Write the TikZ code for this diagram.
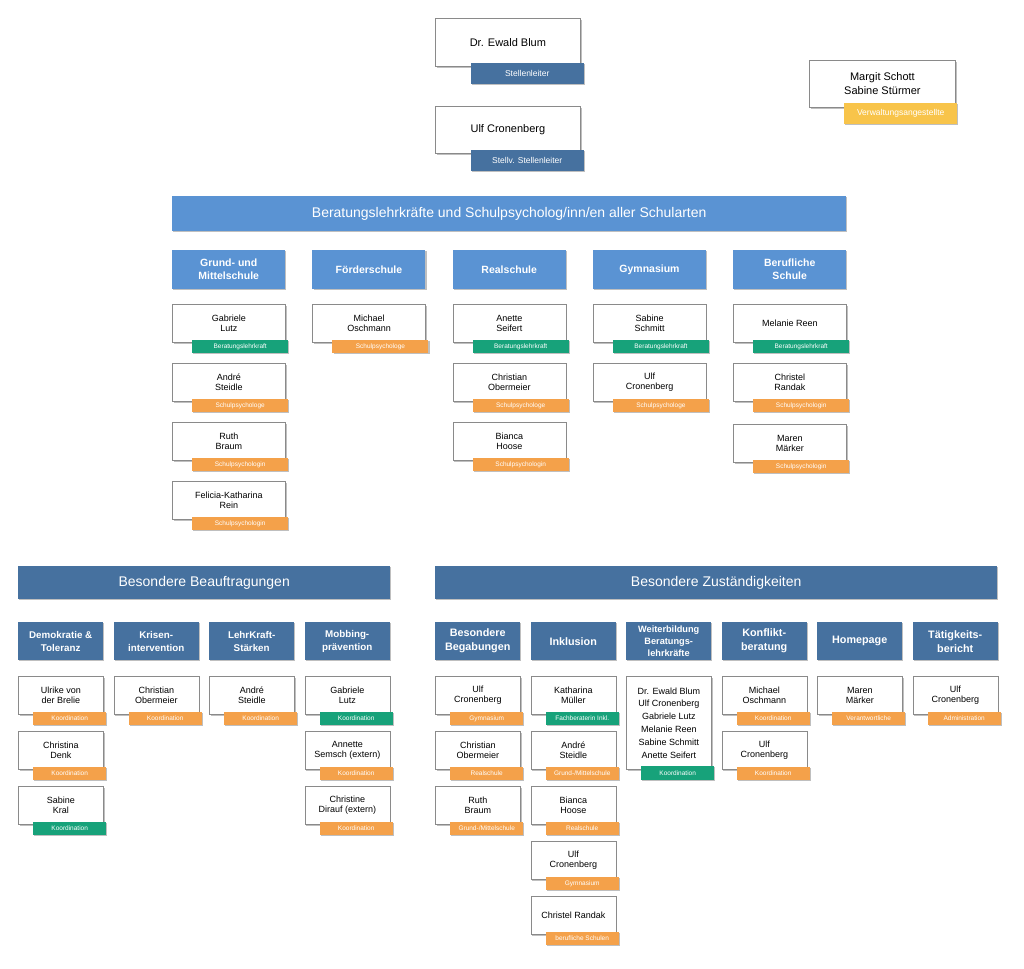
\documentclass[tikz,border=0pt]{standalone}
\usepackage{fontspec}
\setmainfont{Liberation Sans}
\usetikzlibrary{shadows}
\definecolor{lblue}{HTML}{5A93D3}
\definecolor{dblue}{HTML}{46719F}
\definecolor{tgreen}{HTML}{17A27A}
\definecolor{torange}{HTML}{F4A14A}
\definecolor{tyellow}{HTML}{F8C44A}
\definecolor{cardgray}{HTML}{8A8A8A}
\newcommand{\nmfont}{\fontsize{9}{10.5}\selectfont}
\newcommand{\tgfont}{\fontsize{6.5}{7.5}\selectfont}
\tikzset{
  shd/.style={drop shadow={shadow xshift=1.2pt, shadow yshift=-1.2pt, opacity=0.25, fill=black}},
  card/.style={draw=cardgray, line width=0.8pt, fill=white, inner sep=0pt, align=center, anchor=north west, shd},
  tagbox/.style={inner sep=0pt, text=white, anchor=north west, align=center, shd},
  hdr/.style={inner sep=0pt, text=white, anchor=north west, align=center, shd},
}
\newcommand{\ucard}[6]{%
  \node[card, minimum width=113pt, minimum height=38pt, font=\nmfont] (#1) at (#2,#3) {#4};
  \node[tagbox, fill=#5, minimum width=96pt, minimum height=13.5pt, font=\tgfont] (#1-tag) at ({#2+20},{#3+35.5}) {#6};
}
\newcommand{\lcard}[6]{%
  \node[card, minimum width=85pt, minimum height=38pt, font=\nmfont] (#1) at (#2,#3) {#4};
  \node[tagbox, fill=#5, minimum width=73pt, minimum height=13.5pt, font=\tgfont] (#1-tag) at ({#2+15},{#3+35.5}) {#6};
}
\newcommand{\uhead}[4]{%
  \node[hdr, fill=lblue, minimum width=113pt, minimum height=39pt, font=\fontsize{10.5}{13}\selectfont\bfseries] (#1) at (#2,#3) {#4};
}
\newcommand{\lhead}[5]{%
  \node[hdr, fill=dblue, minimum width=85pt, minimum height=38pt, font=\fontsize{#4}{#5}\selectfont\bfseries] (#1) at (#2,622) {#3};
}
\begin{document}
\begin{tikzpicture}[x=1pt,y=-1pt]
\useasboundingbox[fill=white] (0,0) rectangle (1024,968);

% --- top leaders
\node[card, minimum width=145pt, minimum height=48pt, font=\fontsize{11}{14}\selectfont] (blum) at (435,18) {Dr. Ewald Blum};
\node[tagbox, fill=dblue, minimum width=113pt, minimum height=20.5pt, font=\fontsize{8.5}{10}\selectfont] (blum-tag) at (470.5,63) {Stellenleiter};
\node[card, minimum width=145pt, minimum height=47pt, font=\fontsize{11}{14}\selectfont] (cron) at (435,106) {Ulf Cronenberg};
\node[tagbox, fill=dblue, minimum width=113pt, minimum height=20.5pt, font=\fontsize{8.5}{10}\selectfont] (cron-tag) at (470.5,150) {Stellv. Stellenleiter};
\node[card, minimum width=146pt, minimum height=47pt, font=\fontsize{11}{14}\selectfont] (schott) at (809,60) {Margit Schott\\Sabine Stürmer};
\node[tagbox, fill=tyellow, minimum width=113pt, minimum height=21pt, font=\fontsize{8.5}{10}\selectfont] (schott-tag) at (844,103) {Verwaltungsangestellte};

% --- upper section
\node[hdr, fill=lblue, minimum width=674pt, minimum height=35pt, font=\fontsize{14}{16}\selectfont] (berat) at (172,196) {Beratungslehrkräfte und Schulpsycholog/inn/en aller Schularten};

\uhead{gms}{172}{250}{Grund- und\\Mittelschule}
\uhead{foe}{312.25}{250}{Förderschule}
\uhead{real}{452.5}{250}{Realschule}
\uhead{gym}{592.75}{250}{Gymnasium}
\uhead{beruf}{733}{250}{Berufliche\\Schule}

\ucard{u11}{172}{304}{Gabriele\\Lutz}{tgreen}{Beratungslehrkraft}
\ucard{u12}{172}{363}{André\\Steidle}{torange}{Schulpsychologe}
\ucard{u13}{172}{422}{Ruth\\Braum}{torange}{Schulpsychologin}
\ucard{u14}{172}{481}{Felicia-Katharina\\Rein}{torange}{Schulpsychologin}

\ucard{u21}{312.25}{304}{Michael\\Oschmann}{torange}{Schulpsychologe}

\ucard{u31}{452.5}{304}{Anette\\Seifert}{tgreen}{Beratungslehrkraft}
\ucard{u32}{452.5}{363}{Christian\\Obermeier}{torange}{Schulpsychologe}
\ucard{u33}{452.5}{422}{Bianca\\Hoose}{torange}{Schulpsychologin}

\ucard{u41}{592.75}{304}{Sabine\\Schmitt}{tgreen}{Beratungslehrkraft}
\ucard{u42}{592.75}{363}{Ulf\\Cronenberg}{torange}{Schulpsychologe}

\ucard{u51}{733}{304}{Melanie Reen}{tgreen}{Beratungslehrkraft}
\ucard{u52}{733}{363}{Christel\\Randak}{torange}{Schulpsychologin}
\ucard{u53}{733}{424}{Maren\\Märker}{torange}{Schulpsychologin}

% --- lower section headers
\node[hdr, fill=dblue, minimum width=372pt, minimum height=33pt, font=\fontsize{14}{16}\selectfont] (beauf) at (18,566) {Besondere Beauftragungen};
\node[hdr, fill=dblue, minimum width=562pt, minimum height=33pt, font=\fontsize{14}{16}\selectfont] (zust) at (435,566) {Besondere Zuständigkeiten};

\lhead{demo}{18}{Demokratie \&\\Toleranz}{9.8}{13}
\lhead{kris}{113.5}{Krisen-\\intervention}{9.8}{13}
\lhead{lks}{209}{LehrKraft-\\Stärken}{9.8}{13}
\lhead{mob}{304.5}{Mobbing-\\prävention}{9.8}{13}

\lhead{beg}{435}{Besondere\\Begabungen}{10.8}{14}
\lhead{ink}{530.5}{Inklusion}{10.8}{14}
\lhead{wb}{626}{Weiterbildung\\Beratungs-\\lehrkräfte}{9.2}{12}
\lhead{konf}{721.5}{Konflikt-\\beratung}{10.8}{14}
\lhead{home}{817}{Homepage}{10.8}{14}
\lhead{taet}{912.5}{Tätigkeits-\\bericht}{10.8}{14}

% --- Beauftragungen cards
\lcard{d1}{18}{676}{Ulrike von\\der Brelie}{torange}{Koordination}
\lcard{d2}{18}{731}{Christina\\Denk}{torange}{Koordination}
\lcard{d3}{18}{786}{Sabine\\Kral}{tgreen}{Koordination}
\lcard{k1}{113.5}{676}{Christian\\Obermeier}{torange}{Koordination}
\lcard{l1}{209}{676}{André\\Steidle}{torange}{Koordination}
\lcard{m1}{304.5}{676}{Gabriele\\Lutz}{tgreen}{Koordination}
\lcard{m2}{304.5}{731}{Annette\\Semsch (extern)}{torange}{Koordination}
\lcard{m3}{304.5}{786}{Christine\\Dirauf (extern)}{torange}{Koordination}

% --- Zuständigkeiten cards
\lcard{b1}{435}{676}{Ulf\\Cronenberg}{torange}{Gymnasium}
\lcard{b2}{435}{731}{Christian\\Obermeier}{torange}{Realschule}
\lcard{b3}{435}{786}{Ruth\\Braum}{torange}{Grund-/Mittelschule}
\lcard{i1}{530.5}{676}{Katharina\\Müller}{tgreen}{Fachberaterin Inkl.}
\lcard{i2}{530.5}{731}{André\\Steidle}{torange}{Grund-/Mittelschule}
\lcard{i3}{530.5}{786}{Bianca\\Hoose}{torange}{Realschule}
\lcard{i4}{530.5}{841}{Ulf\\Cronenberg}{torange}{Gymnasium}
\lcard{i5}{530.5}{896}{Christel Randak}{torange}{berufliche Schulen}

\node[card, minimum width=85pt, minimum height=93pt, font=\fontsize{9}{12.8}\selectfont] (w1) at (626,676) {Dr. Ewald Blum\\Ulf Cronenberg\\Gabriele Lutz\\Melanie Reen\\Sabine Schmitt\\Anette Seifert};
\node[tagbox, fill=tgreen, minimum width=73pt, minimum height=13.5pt, font=\tgfont] (w1-tag) at (641,766) {Koordination};

\lcard{c1}{721.5}{676}{Michael\\Oschmann}{torange}{Koordination}
\lcard{c2}{721.5}{731}{Ulf\\Cronenberg}{torange}{Koordination}
\lcard{h1}{817}{676}{Maren\\Märker}{torange}{Verantwortliche}
\lcard{t1}{912.5}{676}{Ulf\\Cronenberg}{torange}{Administration}
\end{tikzpicture}
\end{document}
